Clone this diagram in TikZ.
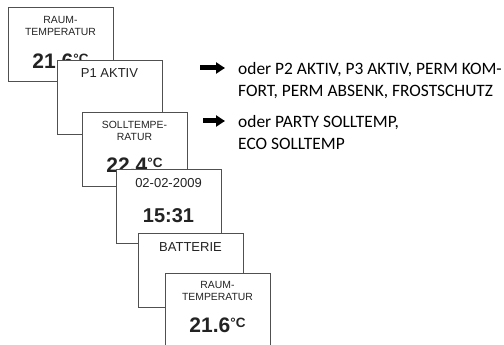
\documentclass[tikz,border=0pt]{standalone}
\usepackage{fontspec}
\setmainfont{Liberation Sans}
\newfontfamily\notefont{Carlito}
\usepackage{tikz}
\usetikzlibrary{arrows.meta,positioning,calc}
\definecolor{framegray}{RGB}{80,80,80}
\definecolor{textgray}{RGB}{35,35,35}
\newcommand{\tempval}[1]{\fontsize{21}{21}\selectfont\bfseries #1\raisebox{5pt}{\fontsize{13.5}{13.5}\selectfont °C}}

\begin{document}
\begin{tikzpicture}[
  x=1pt, y=1pt,
  screen/.style={draw=framegray, line width=0.9pt, fill=white, minimum width=105pt,
                 minimum height=74pt, inner sep=0pt, outer sep=0pt, anchor=north west},
  smalltxt/.style={inner sep=0pt, align=center, font=\fontsize{10.4}{12}\selectfont, text=textgray},
  midtxt/.style={inner sep=0pt, font=\fontsize{13}{13}\selectfont, text=textgray},
  bigtxt/.style={inner sep=0pt, text=textgray},
  note/.style={inner sep=0pt, align=left, font=\notefont\fontsize{17.4}{22.4}\selectfont},
  fat/.style={-{Triangle[length=9pt,width=11pt]}, line width=5pt}
]
\useasboundingbox (0,0) rectangle (504,-345);

% display sequence
\node[screen] (s1) at (8,-7) {};
\node[smalltxt, below=9.3pt of s1.north] (s1top) {RAUM-\\TEMPERATUR};
\node[bigtxt, below=61.5pt of s1.north, anchor=base] (s1val) {\tempval{21.6}};

\node[screen, below right=53pt and 49pt of s1.north west] (s2) {};
\node[midtxt, below=8.3pt of s2.north] (s2top) {P1 AKTIV};

\node[screen, below right=52pt and 25pt of s2.north west] (s3) {};
\node[smalltxt, below=9.3pt of s3.north] (s3top) {SOLLTEMPE-\\RATUR};
\node[bigtxt, below=60.5pt of s3.north, anchor=base] (s3val) {\tempval{22.4}};

\node[screen, below right=57pt and 34pt of s3.north west] (s4) {};
\node[midtxt, below=9.3pt of s4.north] (s4top) {02-02-2009};
\node[bigtxt, below=53.2pt of s4.north, anchor=base, font=\fontsize{20}{20}\selectfont\bfseries] (s4val) {15:31};

\node[screen, below right=64pt and 22pt of s4.north west] (s5) {};
\node[midtxt, below=9.3pt of s5.north] (s5top) {BATTERIE};

\node[screen, below right=40pt and 27pt of s5.north west] (s6) {};
\node[smalltxt, below=8.3pt of s6.north] (s6top) {RAUM-\\TEMPERATUR};
\node[bigtxt, below=59.5pt of s6.north, anchor=base] (s6val) {\tempval{21.6}};

% alternatives (base = last line)
\node[note, anchor=base west] (n1) at (238,-96.7)
  {oder P2 AKTIV, P3 AKTIV, PERM KOM-\\FORT, PERM ABSENK, FROSTSCHUTZ};
\node[note, anchor=base west] (n2) at (238,-149.7)
  {oder PARTY SOLLTEMP,\\ECO SOLLTEMP};

\coordinate (a1) at ($(n1.base west)+(-38,28.7)$);
\coordinate (a1e) at ($(n1.base west)+(-13,28.7)$);
\coordinate (a2) at ($(n2.base west)+(-35,28.7)$);
\coordinate (a2e) at ($(n2.base west)+(-13,28.7)$);
\draw[fat] (a1) -- (a1e);
\draw[fat] (a2) -- (a2e);
\end{tikzpicture}
\end{document}
